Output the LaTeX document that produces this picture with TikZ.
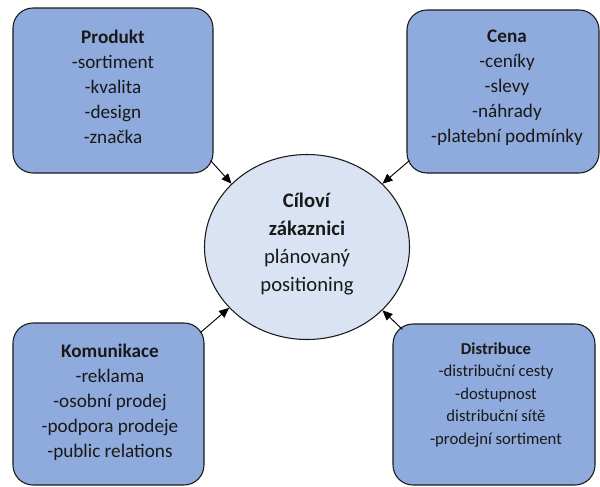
\documentclass[tikz,border=0pt]{standalone}
\usepackage{fontspec}
\setmainfont{Carlito}
\usetikzlibrary{arrows.meta}
\definecolor{boxfill}{HTML}{8FAADC}
\definecolor{circfill}{HTML}{DAE3F3}
\definecolor{edge}{HTML}{1A1A1A}
\tikzset{
  x=0.75pt, y=-0.75pt,
  box/.style={draw=edge, line width=0.8pt, fill=boxfill, rounded corners=15pt, inner sep=0pt},
  boxtext/.style={align=center, font=\fontsize{14.4}{18.75}\selectfont, text=black!90, inner sep=0pt},
  smalltext/.style={align=center, font=\fontsize{12.5}{16.9}\selectfont, text=black!90, inner sep=0pt},
  circtext/.style={align=center, font=\fontsize{15.5}{21}\selectfont, text=black!90, inner sep=0pt},
  target/.style={draw=edge, line width=0.8pt, fill=circfill, ellipse, inner sep=0pt},
  arr/.style={draw=black, line width=0.7pt, -{Triangle[length=7.5pt,width=6.5pt]}}
}
\usetikzlibrary{shapes.geometric}
\begin{document}
\begin{tikzpicture}
\useasboundingbox (0,0) rectangle (600,486);
% boxes
\node[box, minimum width=150pt, minimum height=123.75pt] (prod) at (113,90.5) {};
\node[box, minimum width=144pt, minimum height=122.25pt] (cena) at (503,91.5) {};
\node[box, minimum width=143.25pt, minimum height=121.5pt] (komu) at (108.5,404) {};
\node[box, minimum width=151.5pt, minimum height=120.75pt] (dist) at (494,404.5) {};
% circle
\node[target, minimum width=153.75pt, minimum height=138.75pt] (circ) at (307,247) {};
% texts
\node[boxtext] (prodt) at (113,87) {\textbf{Produkt}\\-sortiment\\-kvalita\\-design\\-značka};
\node[boxtext] (cenat) at (507,88) {\textbf{Cena}\\-ceníky\\-slevy\\-náhrady\\-platební podmínky};
\node[boxtext] (komut) at (110,402) {\textbf{Komunikace}\\-reklama\\-osobní prodej\\-podpora prodeje\\-public relations};
\node[smalltext] (distt) at (496,395) {\textbf{Distribuce}\\-distribuční cesty\\-dostupnost\\distribuční sítě\\-prodejní sortiment};
\node[circtext] (circt) at (307,244.5) {\textbf{Cíloví}\\\textbf{zákaznici}\\plánovaný\\positioning};
% arrows
\draw[arr] ([shift={(-3,-13)}]prod.south east) -- (circ.140);
\draw[arr] ([shift={(3,-13)}]cena.south west) -- (circ.40);
\draw[arr] ([shift={(-4,10)}]komu.north east) -- (circ.218);
\draw[arr] ([shift={(10,6)}]dist.north west) -- (circ.320);
\end{tikzpicture}
\end{document}
